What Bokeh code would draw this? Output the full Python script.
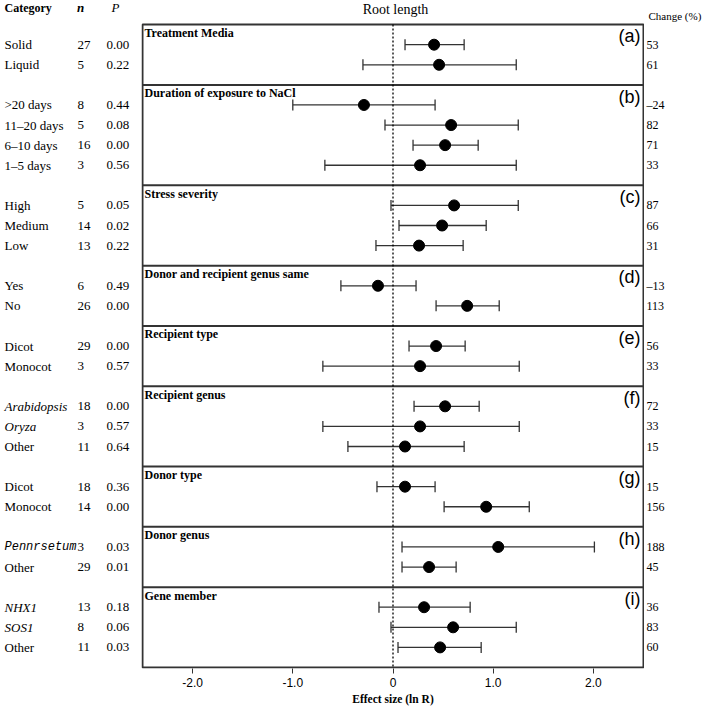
from bokeh.plotting import figure
from bokeh.models import ColumnDataSource, Range1d, Whisker, TeeHead, FixedTicker
from bokeh.layouts import row
from bokeh.core.properties import value, field
from bokeh.embed import file_html
from bokeh.resources import INLINE

# ---------------- data ----------------
group_titles = ["Treatment Media", "Duration of exposure to NaCl", "Stress severity",
                "Donor and recipient genus same", "Recipient type", "Recipient genus",
                "Donor type", "Donor genus", "Gene member"]
panel_tags = ["(a)", "(b)", "(c)", "(d)", "(e)", "(f)", "(g)", "(h)", "(i)"]
group_sizes = [2, 4, 3, 2, 2, 3, 2, 2, 3]
categories = ["Solid", "Liquid",
              ">20 days", "11\u201320 days", "6\u201310 days", "1\u20135 days",
              "High", "Medium", "Low",
              "Yes", "No",
              "Dicot", "Monocot",
              "Arabidopsis", "Oryza", "Other",
              "Dicot", "Monocot",
              "Pennrsetum", "Other",
              "NHX1", "SOS1", "Other"]
n_values = [27, 5, 8, 5, 16, 3, 5, 14, 13, 6, 26, 29, 3, 18, 3, 11, 18, 14, 3, 29, 13, 8, 11]
p_values = ["0.00", "0.22", "0.44", "0.08", "0.00", "0.56", "0.05", "0.02", "0.22",
            "0.49", "0.00", "0.00", "0.57", "0.00", "0.57", "0.64", "0.36", "0.00",
            "0.03", "0.01", "0.18", "0.06", "0.03"]
effect = [0.41, 0.46, -0.29, 0.58, 0.52, 0.27, 0.61, 0.49, 0.26, -0.15, 0.74, 0.43,
          0.27, 0.52, 0.27, 0.12, 0.12, 0.93, 1.05, 0.36, 0.31, 0.60, 0.47]
ci_low = [0.12, -0.30, -1.00, -0.08, 0.20, -0.68, -0.02, 0.06, -0.17, -0.52, 0.43, 0.16,
          -0.70, 0.21, -0.70, -0.45, -0.16, 0.51, 0.09, 0.09, -0.14, -0.02, 0.05]
ci_high = [0.71, 1.23, 0.42, 1.25, 0.85, 1.23, 1.25, 0.93, 0.70, 0.23, 1.06, 0.72,
           1.26, 0.86, 1.26, 0.71, 0.42, 1.36, 2.01, 0.63, 0.77, 1.23, 0.88]
change_pct = ["53", "61", "\u201324", "82", "71", "33", "87", "66", "31", "\u201313", "113",
              "56", "33", "72", "33", "15", "15", "156", "188", "45", "36", "83", "60"]
italic_names = ["Arabidopsis", "Oryza", "NHX1", "SOS1"]
mono_names = ["Pennrsetum"]
tick_values = [-2, -1, 0, 1, 2]
tick_labels = ["-2.0", "-1.0", "0", "1.0", "2.0"]
x_limits = (-2.5, 2.5)

# ---------------- layout in row units ----------------
panel_tops = []
row_y = []
cur = 0
for size in group_sizes:
    panel_tops.append(cur)
    for k in range(size):
        row_y.append(cur + 1 + k)
    cur += size + 1
total_rows = cur  # 32

SERIF = "Liberation Serif"
SANS = "Liberation Sans"
INK = "#333333"

fonts, styles, sizes = [], [], []
for c in categories:
    if c in mono_names:
        fonts.append("Liberation Mono"); styles.append("italic"); sizes.append("12px")
    elif c in italic_names:
        fonts.append(SERIF); styles.append("italic"); sizes.append("13px")
    else:
        fonts.append(SERIF); styles.append("normal"); sizes.append("13px")

src = ColumnDataSource(dict(
    y=row_y, cat=categories, n=[str(v) for v in n_values], p=p_values,
    effect=effect, lo=ci_low, hi=ci_high, chg=change_pct,
    font=fonts, style=styles, size=sizes,
))
head_src = ColumnDataSource(dict(
    ytitle=[t + 0.42 for t in panel_tops], ytag=[t + 0.58 for t in panel_tops],
    title=group_titles, tag=panel_tags,
))

H = 708
BOTTOM = 40
yr = Range1d(total_rows + 0.05, -1.2)


def base_fig(w, xr):
    f = figure(width=w, height=H, output_backend="svg", toolbar_location=None,
               x_range=xr, y_range=yr, min_border=0, min_border_bottom=BOTTOM,
               y_axis_location=None)
    f.grid.visible = False
    f.outline_line_color = None
    f.background_fill_color = "white"
    f.border_fill_color = "white"
    return f


# ---------- left table ----------
pl = base_fig(141, Range1d(0, 141))
pl.xaxis.visible = False
pl.text(x=4, y="y", text="cat", source=src, text_font=field("font"),
        text_font_style=field("style"), text_font_size=field("size"),
        text_baseline="middle", text_align="left", text_color="black")
pl.text(x=77, y="y", text="n", source=src, text_font=value(SERIF), text_font_size="13px",
        text_baseline="middle", text_align="left", text_color="black")
pl.text(x=106, y="y", text="p", source=src, text_font=value(SERIF), text_font_size="13px",
        text_baseline="middle", text_align="left", text_color="black")
pl.text(x=[4], y=[-0.85], text=["Category"], text_font=value(SERIF), text_font_style="bold",
        text_font_size="12px", text_baseline="middle", text_align="left", text_color="black")
pl.text(x=[80], y=[-0.85], text=["n"], text_font=value(SERIF), text_font_style="bold italic",
        text_font_size="13px", text_baseline="middle", text_align="center", text_color="black")
pl.text(x=[115], y=[-0.85], text=["P"], text_font=value(SERIF), text_font_style="italic",
        text_font_size="13px", text_baseline="middle", text_align="center", text_color="black")

# ---------- middle forest plot ----------
pm = base_fig(503, Range1d(x_limits[0] - 0.01, x_limits[1] + 0.01))
pm.quad(left=[x_limits[0]], right=[x_limits[1]], top=[0], bottom=[total_rows],
        fill_color=None, line_color=INK, line_width=2)
pm.segment(x0=[x_limits[0]] * (len(panel_tops) - 1), x1=[x_limits[1]] * (len(panel_tops) - 1),
           y0=panel_tops[1:], y1=panel_tops[1:], line_color=INK, line_width=2)
pm.segment(x0=[0], x1=[0], y0=[0], y1=[total_rows], line_color="black",
           line_width=1.3, line_dash="2 2")

wh = Whisker(source=src, base="y", lower="lo", upper="hi", dimension="width",
             line_color=INK, line_width=1.3,
             lower_head=TeeHead(size=11, line_color=INK, line_width=1.3),
             upper_head=TeeHead(size=11, line_color=INK, line_width=1.3))
pm.add_layout(wh)
pm.scatter(x="effect", y="y", source=src, size=11, color="black")

pm.text(x=x_limits[0] + 0.02, y="ytitle", text="title", source=head_src,
        text_font=value(SERIF), text_font_style="bold", text_font_size="12px",
        text_baseline="middle", text_align="left", text_color="black")
pm.text(x=x_limits[1] - 0.03, y="ytag", text="tag", source=head_src,
        text_font=value(SANS), text_font_size="18px",
        text_baseline="middle", text_align="right", text_color="black")
pm.text(x=[0.025], y=[-0.75], text=["Root length"], text_font=value(SERIF),
        text_font_size="14px", text_baseline="middle", text_align="center", text_color="black")

ax = pm.xaxis[0]
ax.ticker = FixedTicker(ticks=tick_values)
ax.major_label_overrides = {v: l for v, l in zip(tick_values, tick_labels)}
ax.minor_tick_line_color = None
ax.axis_line_color = None
ax.major_tick_line_color = INK
ax.major_tick_out = 5
ax.major_tick_in = 0
ax.major_label_standoff = 4
ax.major_label_text_font = SANS
ax.major_label_text_font_size = "12px"
ax.major_label_text_color = "black"
ax.axis_label = "Effect size (ln R)"
ax.axis_label_text_font = SERIF
ax.axis_label_text_font_style = "bold"
ax.axis_label_text_font_size = "11.5px"
ax.axis_label_text_color = "black"
ax.axis_label_standoff = 3

# ---------- right column ----------
pr = base_fig(65, Range1d(0, 65))
pr.xaxis.visible = False
pr.text(x=2, y="y", text="chg", source=src, text_font=value(SERIF), text_font_size="12px",
        text_baseline="middle", text_align="left", text_color="black")
pr.text(x=[4], y=[-0.45], text=["Change (%)"], text_font=value(SERIF),
        text_font_size="11px", text_baseline="middle", text_align="left", text_color="black")

layout = row(pl, pm, pr)
open("out.html", "w").write(file_html(layout, INLINE))
